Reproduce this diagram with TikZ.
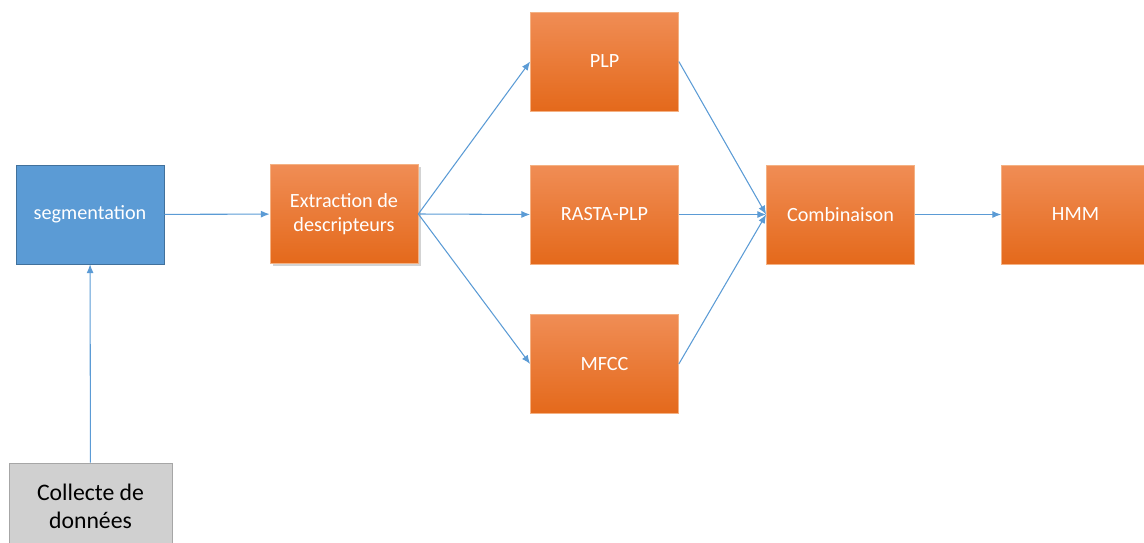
\documentclass[tikz,border=0pt]{standalone}
\usepackage{fontspec}
\setmainfont{Carlito}
\usetikzlibrary{arrows.meta,positioning,shadows}

\definecolor{lineblue}{HTML}{5B9BD5}
\definecolor{segblue}{HTML}{5B9BD5}
\definecolor{segedge}{HTML}{41719C}
\definecolor{orangetop}{HTML}{F08D55}
\definecolor{orangebot}{HTML}{E4691B}
\definecolor{orangeedge}{HTML}{F4B183}
\definecolor{greyfill}{HTML}{D0D0D0}
\definecolor{greyedge}{HTML}{A6A6A6}

\begin{document}
\begin{tikzpicture}[x=0.02cm,y=-0.02cm,
    box/.style={minimum width=2.96cm,minimum height=1.98cm,inner sep=0pt,
      align=center,font=\fontsize{11.5}{14}\selectfont,text=white},
    orangebox/.style={box,top color=orangetop,bottom color=orangebot,
      draw=orangeedge,line width=0.4pt},
    link/.style={draw=lineblue,line width=0.6pt,-{Latex[length=5pt,width=4pt]}}
  ]
    \clip (0,0) rectangle (1144,543);
    \useasboundingbox (0,0) rectangle (1144,543);
    % boxes
    \node[box,fill=segblue,draw=segedge] (seg) at (90,214.5) {segmentation};
    \node[orangebox,drop shadow={shadow xshift=1.5pt,shadow yshift=-1.5pt,opacity=0.35}] (extr) at (344,214) {Extraction de\\descripteurs};
    \node[orangebox] (plp) at (604.5,61.5) {PLP};
    \node[orangebox] (rasta) at (604.5,214.5) {RASTA-PLP};
    \node[orangebox] (mfcc) at (604.5,364) {MFCC};
    \node[orangebox] (comb) at (840.5,214.5) {Combinaison};
    \node[orangebox] (hmm) at (1075.5,214.5) {HMM};
    \node[box,minimum width=3.26cm,minimum height=1.72cm,fill=greyfill,draw=greyedge,text=black,
      font=\fontsize{13.5}{16}\selectfont] (coll) at (90.5,506) {Collecte de\\données};
    % connectors
    \draw[link] (coll) -- (seg);
    \draw[link] (seg) -- (extr);
    \draw[link] (extr.east) -- (plp.west);
    \draw[link] (extr.east) -- (rasta.west);
    \draw[link] (extr.east) -- (mfcc.west);
    \draw[link] (plp.east) -- (comb.west);
    \draw[link] (rasta.east) -- (comb.west);
    \draw[link] (mfcc.east) -- (comb.west);
    \draw[link] (comb) -- (hmm);
  \end{tikzpicture}
\end{document}
